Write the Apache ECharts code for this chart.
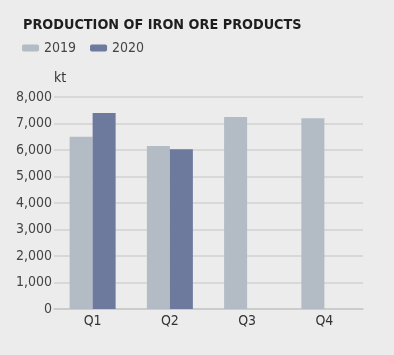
<!DOCTYPE html>
<html><head><meta charset="utf-8">
<script src="https://cdn.jsdelivr.net/npm/echarts@6/dist/echarts.min.js"></script>
<style>html,body{margin:0;padding:0;background:#ececec}#c{width:394px;height:355px}</style>
</head><body><div id="c"></div>
<script>
const categories = ['Q1', 'Q2', 'Q3', 'Q4'];
const values2019 = [6500, 6150, 7250, 7200];
const values2020 = [7400, 6030, null, null];
const yTicks = [0, 1000, 2000, 3000, 4000, 5000, 6000, 7000, 8000];
const FONT = "'Liberation Sans Narrow', 'DejaVu Sans Condensed', sans-serif";
const chart = echarts.init(document.getElementById('c'));
chart.setOption({
  backgroundColor: '#ececec',
  animation: false,
  title: {
    text: 'PRODUCTION OF IRON ORE PRODUCTS',
    left: 18, top: 13,
    textStyle: {fontFamily: FONT, fontWeight: 'bold', fontSize: 14.3, color: '#1e1e1e'}
  },
  legend: {
    left: 17, top: 36,
    itemWidth: 17, itemHeight: 7, itemGap: 14,
    textStyle: {fontFamily: FONT, fontSize: 14, color: '#444'},
    data: ['2019', '2020']
  },
  grid: {left: 54, right: 31, top: 97, bottom: 46},
  xAxis: {
    type: 'category', data: categories,
    axisTick: {show: false},
    axisLine: {lineStyle: {color: '#c8c8c8', width: 1.5}},
    axisLabel: {fontFamily: FONT, fontSize: 14, color: '#333', margin: 5}
  },
  yAxis: {
    type: 'value', min: yTicks[0], max: yTicks[yTicks.length - 1], interval: 1000,
    name: 'kt',
    nameGap: 12,
    nameTextStyle: {fontFamily: FONT, fontSize: 14, color: '#333', align: 'left'},
    axisLabel: {fontFamily: FONT, fontSize: 14, color: '#444', margin: 2,
      formatter: v => v.toLocaleString('en-US')},
    splitLine: {lineStyle: {color: '#d2d2d2', width: 1.5}},
    axisLine: {show: false}, axisTick: {show: false}
  },
  series: [
    {name: '2019', type: 'bar', data: values2019, barWidth: 23, barGap: '0%',
     itemStyle: {color: '#b3bcc4'}},
    {name: '2020', type: 'bar', data: values2020, barWidth: 23,
     itemStyle: {color: '#6d799d'}}
  ]
});
</script></body></html>
